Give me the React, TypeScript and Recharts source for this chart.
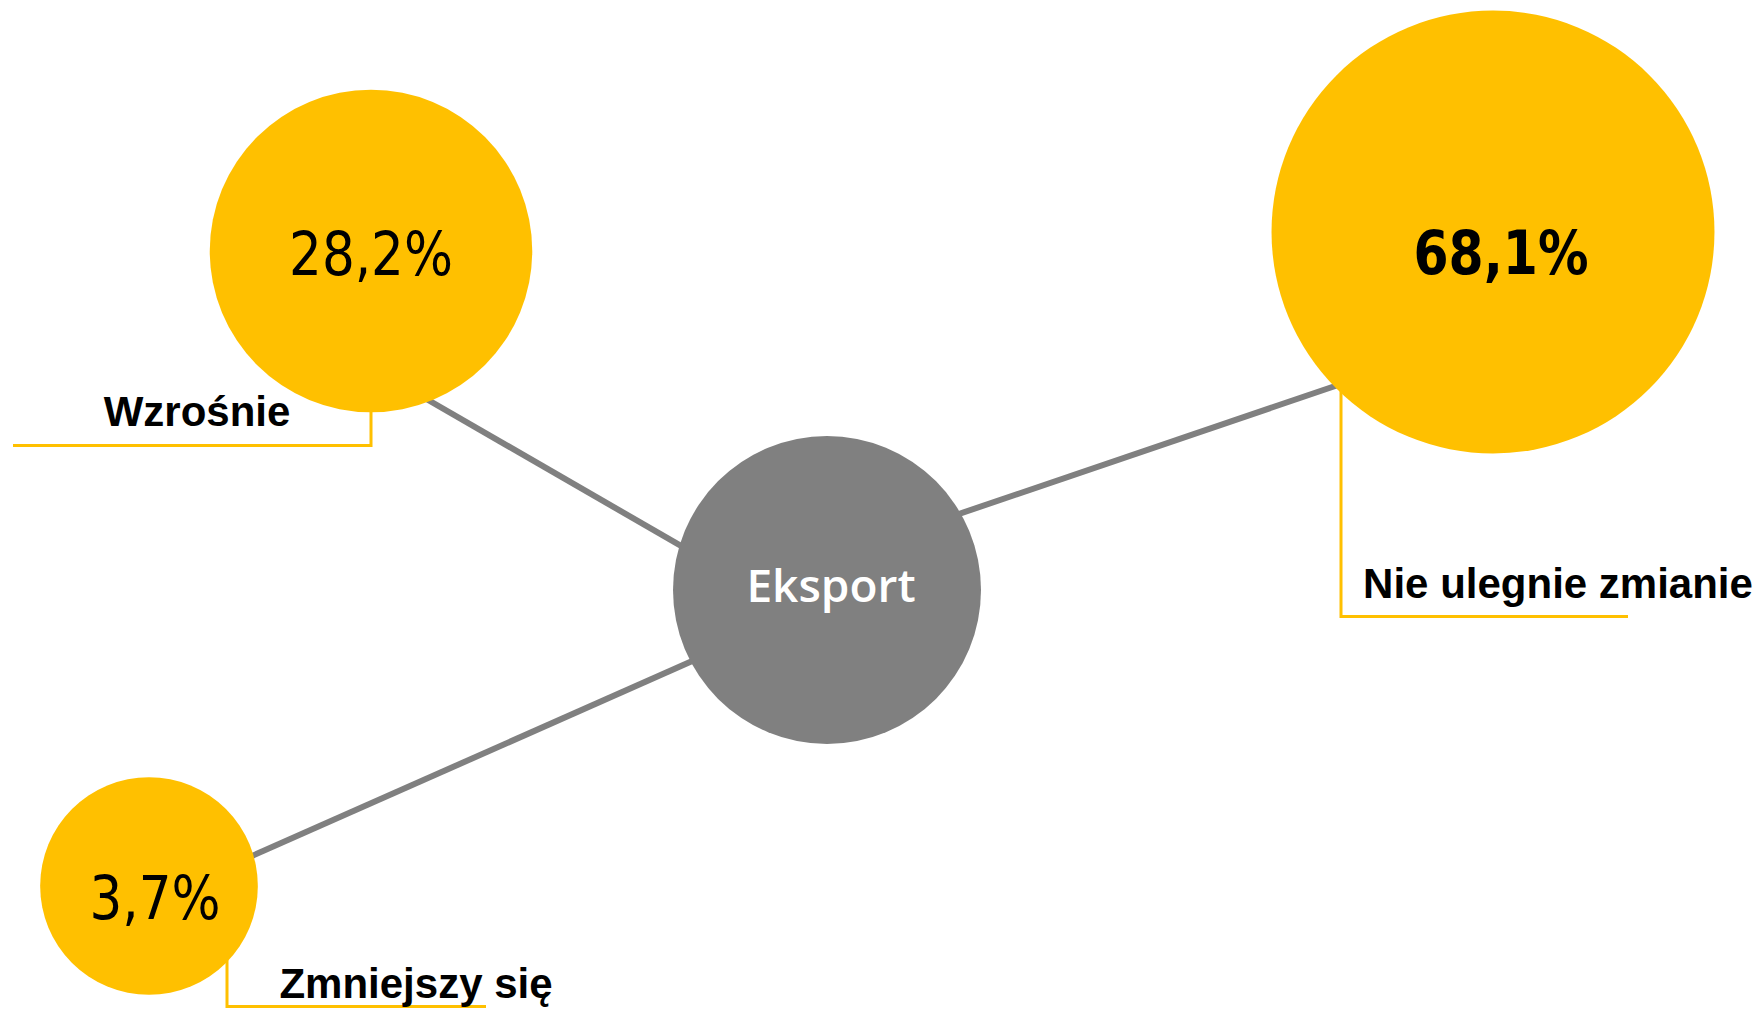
import React from 'react';
import { ScatterChart, Scatter, XAxis, YAxis, ZAxis } from 'recharts';

// ---- data ----
const categories = ['Wzrośnie', 'Nie ulegnie zmianie', 'Zmniejszy się'];
const shares = [28.2, 68.1, 3.7];
const shareLabels = ['28,2%', '68,1%', '3,7%'];
const centerLabel = 'Eksport';

// ---- layout (diagram positions in chart units) ----
const bubbleX = [371, 1493, 149];
const bubbleY = [251, 232, 886];
const valueLabelDx = [0, 8, 6];
const valueLabelDy = [24, 42, 33];
const centerX = 827;
const centerY = 590;
const connectorFrom = [
  { x: 780, y: 603 },
  { x: 900, y: 534 },
  { x: 760, y: 631 },
];
const connectorTo = [
  { x: 371, y: 367 },
  { x: 1400, y: 364 },
  { x: 200, y: 879 },
];
const leaderPaths = [
  [
    { x: 371, y: 380 },
    { x: 371, y: 445.5 },
    { x: 13, y: 445.5 },
  ],
  [
    { x: 1341, y: 370 },
    { x: 1341, y: 616.5 },
    { x: 1628, y: 616.5 },
  ],
  [
    { x: 227, y: 940 },
    { x: 227, y: 1006.5 },
    { x: 486, y: 1006.5 },
  ],
];
const categoryLabelPos = [
  { x: 197, y: 426 },
  { x: 1558, y: 598 },
  { x: 416, y: 998 },
];

const W = 1764;
const H = 1009;
const YELLOW = '#FFC000';
const GREY = '#808080';

const bubbles = categories.map((c, i) => ({
  name: c,
  x: bubbleX[i],
  y: bubbleY[i],
  value: shares[i],
  label: shareLabels[i],
  dx: valueLabelDx[i],
  dy: valueLabelDy[i],
  bold: i === 1,
}));

const catLabels = categories.map((c, i) => ({
  name: c,
  x: categoryLabelPos[i].x,
  y: categoryLabelPos[i].y,
}));

const centerData = [{ x: centerX, y: centerY, name: centerLabel }];

const Empty = () => <g />;

const BubbleShape = (props: any) => {
  const { cx, cy, width, payload } = props;
  const r = width / 2;
  const tx = cx + payload.dx;
  return (
    <g>
      <circle cx={cx} cy={cy} r={r} fill={YELLOW} />
      <g transform={`translate(${tx} 0) scale(${payload.bold ? 0.92 : 0.94} 1) translate(${-tx} 0)`}>
        <text
          x={tx}
          y={cy + payload.dy}
          textAnchor="middle"
          fontFamily="'DejaVu Sans Condensed', 'Liberation Sans Narrow', 'Liberation Sans', sans-serif"
          fontWeight={payload.bold ? 700 : 400}
          fontSize={61}
          fill="#000"
        >
          {payload.label}
        </text>
      </g>
    </g>
  );
};

const CenterShape = (props: any) => {
  const { cx, cy, payload } = props;
  return (
    <g>
      <circle cx={cx} cy={cy} r={154} fill={GREY} />
      <text
        x={cx + 4}
        y={cy + 12}
        textAnchor="middle"
        fontFamily="'Open Sans', 'Noto Sans', sans-serif"
        fontWeight={600}
        fontSize={46}
        fill="#fff"
      >
        {payload.name}
      </text>
    </g>
  );
};

const CatLabelShape = (props: any) => {
  const { cx, cy, payload } = props;
  return (
    <text
      x={cx}
      y={cy}
      textAnchor="middle"
      fontFamily="'Liberation Sans', Arial, sans-serif"
      fontWeight={700}
      fontSize={42}
      fill="#000"
    >
      {payload.name}
    </text>
  );
};

export default function App() {
  return (
    <div style={{ position: 'absolute', left: 0, top: 0, width: W, height: H, background: '#fff' }}>
      <ScatterChart width={W} height={H} margin={{ top: 0, right: 0, bottom: 0, left: 0 }}>
        <XAxis type="number" dataKey="x" domain={[0, W]} hide allowDataOverflow />
        <YAxis type="number" dataKey="y" domain={[0, H]} reversed hide allowDataOverflow />
        <ZAxis type="number" dataKey="value" domain={[0, 100]} range={[30500, 212000]} />
        {connectorFrom.map((p, i) => (
          <Scatter
            key={'c' + i}
            data={[p, connectorTo[i]]}
            line={{ stroke: GREY, strokeWidth: 6 }}
            shape={Empty}
            isAnimationActive={false}
          />
        ))}
        {leaderPaths.map((pts, i) => (
          <Scatter
            key={'l' + i}
            data={pts}
            line={{ stroke: YELLOW, strokeWidth: 3 }}
            shape={Empty}
            isAnimationActive={false}
          />
        ))}
        <Scatter data={bubbles} shape={BubbleShape} isAnimationActive={false} />
        <Scatter data={centerData} shape={CenterShape} isAnimationActive={false} />
        <Scatter data={catLabels} shape={CatLabelShape} isAnimationActive={false} />
      </ScatterChart>
    </div>
  );
}
